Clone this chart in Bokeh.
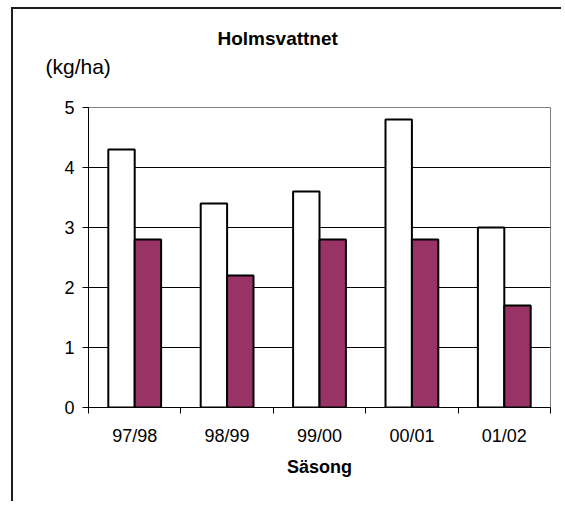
from bokeh.plotting import figure
from bokeh.models import FixedTicker, Range1d, Label, ColumnDataSource
from bokeh.transform import dodge
from bokeh.embed import file_html
from bokeh.resources import INLINE

seasons = ["97/98", "98/99", "99/00", "00/01", "01/02"]
series_white = [4.3, 3.4, 3.6, 4.8, 3.0]
series_purple = [2.8, 2.2, 2.8, 2.8, 1.7]
y_ticks = [0, 1, 2, 3, 4, 5]
title_text = "Holmsvattnet"
unit_text = "(kg/ha)"
x_title = "Säsong"

n = len(seasons)
centers = [i + 0.5 for i in range(n)]
bounds = list(range(n + 1))
src = ColumnDataSource(dict(x=centers, a=series_white, b=series_purple))

FONT = "Liberation Sans"

p = figure(width=550, height=494, x_range=Range1d(0, n), y_range=Range1d(0, y_ticks[-1]),
           output_backend="svg", toolbar_location=None,
           min_border_left=75, min_border_right=13, min_border_top=98, min_border_bottom=96)
p.styles = {"margin-left": "11px", "margin-top": "7px",
            "border-top": "2px solid #1e1e1e", "border-left": "2px solid #1e1e1e"}

bw = 0.2857
p.vbar(x=dodge('x', -bw / 2, range=p.x_range), top='a', width=bw, source=src,
       fill_color="white", line_color="black", line_width=2)
p.vbar(x=dodge('x', bw / 2, range=p.x_range), top='b', width=bw, source=src,
       fill_color="#993366", line_color="black", line_width=2)

p.outline_line_color = "#808080"
p.outline_line_width = 1
p.xgrid.grid_line_color = None
p.ygrid.ticker = FixedTicker(ticks=y_ticks[1:-1])
p.ygrid.grid_line_color = "#000000"
p.ygrid.grid_line_width = 1

xa = p.xaxis[0]
xa.ticker = FixedTicker(ticks=centers, minor_ticks=bounds)
xa.major_label_overrides = {c: s for c, s in zip(centers, seasons)}
xa.major_tick_line_color = None
xa.major_tick_out = 0
xa.major_tick_in = 0
xa.minor_tick_line_color = "black"
xa.minor_tick_out = 6
xa.minor_tick_in = 0
xa.axis_line_color = "black"
xa.major_label_text_font = FONT
xa.major_label_text_font_size = "18px"
xa.major_label_text_color = "black"
xa.major_label_standoff = 12
xa.axis_label = x_title
xa.axis_label_text_font = FONT
xa.axis_label_text_font_style = "bold"
xa.axis_label_text_font_size = "18px"
xa.axis_label_text_color = "black"
xa.axis_label_standoff = 8

ya = p.yaxis[0]
ya.ticker = FixedTicker(ticks=y_ticks)
ya.major_tick_out = 6
ya.major_tick_in = 0
ya.minor_tick_line_color = None
ya.axis_line_color = "black"
ya.major_tick_line_color = "black"
ya.major_label_text_font = FONT
ya.major_label_text_font_size = "18px"
ya.major_label_text_color = "black"
ya.major_label_standoff = 8

p.add_layout(Label(x=129, y=69, x_units="screen", y_units="screen", text=title_text,
                   text_font=FONT, text_font_style="bold", text_font_size="19px",
                   text_baseline="alphabetic", text_color="black"), "above")
p.add_layout(Label(x=-43, y=20, x_units="screen", y_units="screen", text=unit_text,
                   text_font=FONT, text_font_size="21px",
                   text_baseline="alphabetic", text_color="black"), "above")

open("out.html", "w").write(file_html(p, INLINE))
